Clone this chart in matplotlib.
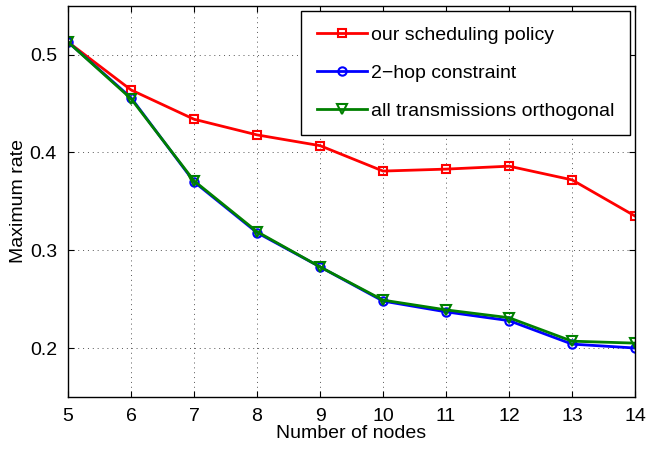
import matplotlib
matplotlib.use("Agg")
import matplotlib.pyplot as plt

nodes = [5, 6, 7, 8, 9, 10, 11, 12, 13, 14]
ours = [0.513, 0.464, 0.434, 0.418, 0.407, 0.381, 0.383, 0.386, 0.372, 0.335]
two_hop = [0.513, 0.456, 0.370, 0.318, 0.283, 0.248, 0.237, 0.228, 0.204, 0.200]
orthogonal = [0.513, 0.455, 0.371, 0.319, 0.283, 0.249, 0.239, 0.231, 0.207, 0.205]

plt.rcParams['font.family'] = ['Liberation Sans', 'DejaVu Sans']

fig = plt.figure(figsize=(6.48, 4.5), dpi=100)
ax = fig.add_axes([0.105, 0.118, 0.875, 0.869])

ax.plot(nodes, ours, color='red', marker='s', markersize=6, markerfacecolor='none',
        markeredgewidth=1.5, linewidth=2, label='our scheduling policy')
ax.plot(nodes, two_hop, color='blue', marker='o', markersize=6, markerfacecolor='none',
        markeredgewidth=1.5, linewidth=2, label='2\u2212hop constraint')
ax.plot(nodes, orthogonal, color='#008000', marker='v', markersize=7, markerfacecolor='none',
        markeredgewidth=1.5, linewidth=2, label='all transmissions orthogonal')

ax.set_xlim(5, 14)
ax.set_ylim(0.15, 0.55)
ax.set_xticks(nodes)
ax.set_yticks([0.2, 0.3, 0.4, 0.5])
ax.set_yticklabels(['0.2', '0.3', '0.4', '0.5'])
ax.grid(True, color='#555555', linestyle=(0, (1, 4)), linewidth=0.7)
ax.tick_params(direction='in', top=True, right=True, labelsize=14, length=4, pad=8)
for s in ax.spines.values():
    s.set_linewidth(1.0)

ax.set_xlabel('Number of nodes', fontsize=14, labelpad=0)
ax.set_ylabel('Maximum rate', fontsize=14, labelpad=2)

leg = ax.legend(loc='upper right', fontsize=14, fancybox=False, framealpha=1,
                edgecolor='black', borderpad=0.8, labelspacing=1.05, handlelength=2.6,
                handletextpad=0.2, borderaxespad=0.25)
leg.get_frame().set_linewidth(1.0)

fig.savefig('out.png', dpi=100)
